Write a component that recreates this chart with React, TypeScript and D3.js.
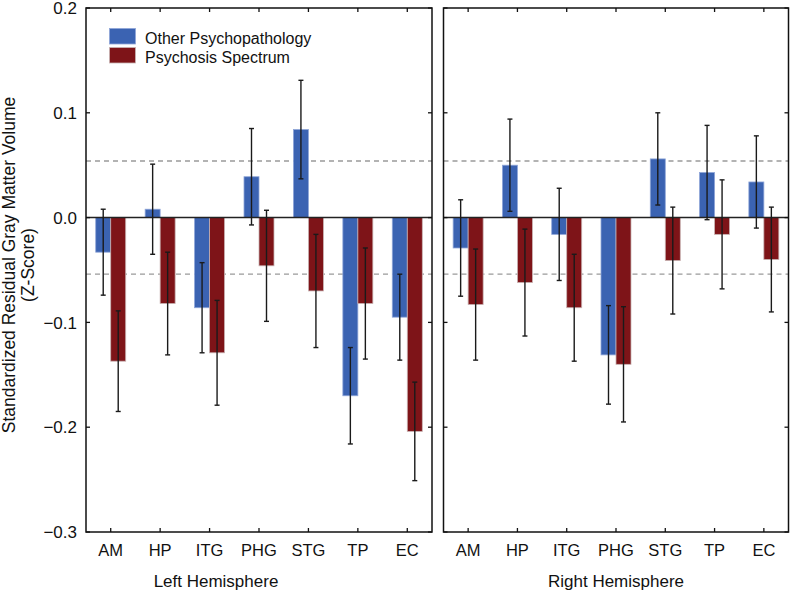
import React, { useEffect, useRef } from 'react';
import * as d3 from 'd3';

const regions = ['AM', 'HP', 'ITG', 'PHG', 'STG', 'TP', 'EC'];
const groups = ['Other Psychopathology', 'Psychosis Spectrum'];
const groupColors = ['#3b63b2', '#7e1418'];
const groupEdges = ['#8ea5d8', '#c9b3b3'];

const leftOther = [-0.033, 0.008, -0.086, 0.039, 0.084, -0.170, -0.095];
const leftOtherErr = [0.041, 0.043, 0.043, 0.046, 0.047, 0.046, 0.041];
const leftPsych = [-0.137, -0.082, -0.129, -0.046, -0.070, -0.082, -0.204];
const leftPsychErr = [0.048, 0.049, 0.050, 0.053, 0.054, 0.053, 0.047];

const rightOther = [-0.029, 0.050, -0.016, -0.131, 0.056, 0.043, 0.034];
const rightOtherErr = [0.046, 0.044, 0.044, 0.047, 0.044, 0.045, 0.044];
const rightPsych = [-0.083, -0.062, -0.086, -0.140, -0.041, -0.016, -0.040];
const rightPsychErr = [0.053, 0.051, 0.051, 0.055, 0.051, 0.052, 0.050];

const yTicks = [0.2, 0.1, 0.0, -0.1, -0.2, -0.3];
const threshold = 0.054;

const W = 791;
const H = 592;
const FONT = '"Liberation Sans", Arial, sans-serif';

const App = () => {
  const svgRef = useRef(null);

  useEffect(() => {
    const svg = d3.select(svgRef.current);
    svg.selectAll('*').remove();

    const top = 8;
    const bottom = 532;
    const yScale = d3.scaleLinear().domain([-0.3, 0.2]).range([bottom, top]);

    const panels = [
      { x0: 86, x1: 432, label: 'Left Hemisphere', labelX: 216, showY: true,
        series: [[leftOther, leftOtherErr], [leftPsych, leftPsychErr]] },
      { x0: 443.5, x1: 788.5, label: 'Right Hemisphere', labelX: 616, showY: false,
        series: [[rightOther, rightOtherErr], [rightPsych, rightPsychErr]] },
    ];

    panels.forEach((p) => {
      const g = svg.append('g');
      const xScale = d3.scaleBand().domain(regions).range([p.x0, p.x1]).padding(0);
      const inner = d3.scaleBand().domain(['0', '1']).range([-15, 15]).padding(0);
      const cx = (r) => xScale(r) + xScale.bandwidth() / 2;

      // dashed threshold lines
      [threshold, -threshold].forEach((t) => {
        g.append('line')
          .attr('x1', p.x0).attr('x2', p.x1)
          .attr('y1', yScale(t)).attr('y2', yScale(t))
          .attr('stroke', '#9a9a9a')
          .attr('stroke-width', 1.3)
          .attr('stroke-dasharray', '5,4');
      });

      // bars
      p.series.forEach(([vals], si) => {
        g.selectAll(null)
          .data(regions)
          .enter()
          .append('rect')
          .attr('x', (r) => cx(r) + inner(String(si)))
          .attr('width', inner.bandwidth())
          .attr('y', (r, i) => yScale(Math.max(0, vals[i])))
          .attr('height', (r, i) => Math.abs(yScale(vals[i]) - yScale(0)))
          .attr('fill', groupColors[si])
          .attr('stroke', groupEdges[si])
          .attr('stroke-width', 0.8);
      });

      // zero line
      g.append('line')
        .attr('x1', p.x0).attr('x2', p.x1)
        .attr('y1', yScale(0)).attr('y2', yScale(0))
        .attr('stroke', '#222')
        .attr('stroke-width', 1.5);

      // error bars
      p.series.forEach(([vals, errs], si) => {
        regions.forEach((r, i) => {
          const x = cx(r) + inner(String(si)) + inner.bandwidth() / 2;
          const yT = yScale(vals[i] + errs[i]);
          const yB = yScale(vals[i] - errs[i]);
          g.append('line').attr('x1', x).attr('x2', x).attr('y1', yT).attr('y2', yB)
            .attr('stroke', '#1a1a1a').attr('stroke-width', 1.4);
          [yT, yB].forEach((yy) => {
            g.append('line').attr('x1', x - 2.5).attr('x2', x + 2.5).attr('y1', yy).attr('y2', yy)
              .attr('stroke', '#1a1a1a').attr('stroke-width', 1.4);
          });
        });
      });

      // frame
      g.append('rect')
        .attr('x', p.x0).attr('y', top)
        .attr('width', p.x1 - p.x0).attr('height', bottom - top)
        .attr('fill', 'none')
        .attr('stroke', '#111')
        .attr('stroke-width', 1.5);

      // inward ticks
      regions.forEach((r) => {
        g.append('line').attr('x1', cx(r)).attr('x2', cx(r)).attr('y1', top).attr('y2', top + 4)
          .attr('stroke', '#111').attr('stroke-width', 1.3);
        g.append('line').attr('x1', cx(r)).attr('x2', cx(r)).attr('y1', bottom).attr('y2', bottom - 4)
          .attr('stroke', '#111').attr('stroke-width', 1.3);
      });
      yTicks.forEach((t) => {
        g.append('line').attr('x1', p.x0).attr('x2', p.x0 + 4).attr('y1', yScale(t)).attr('y2', yScale(t))
          .attr('stroke', '#111').attr('stroke-width', 1.3);
        g.append('line').attr('x1', p.x1).attr('x2', p.x1 - 4).attr('y1', yScale(t)).attr('y2', yScale(t))
          .attr('stroke', '#111').attr('stroke-width', 1.3);
      });

      // category labels
      g.selectAll(null)
        .data(regions)
        .enter()
        .append('text')
        .attr('x', (r) => cx(r))
        .attr('y', 556)
        .attr('text-anchor', 'middle')
        .style('font-family', FONT)
        .style('font-size', '16.5px')
        .attr('fill', '#111')
        .text((r) => r);

      g.append('text')
        .attr('x', p.labelX)
        .attr('y', 587)
        .attr('text-anchor', 'middle')
        .style('font-family', FONT)
        .style('font-size', '17px')
        .attr('fill', '#111')
        .text(p.label);

      if (p.showY) {
        g.selectAll(null)
          .data(yTicks)
          .enter()
          .append('text')
          .attr('x', 77)
          .attr('y', (t) => yScale(t))
          .attr('dy', '0.36em')
          .attr('text-anchor', 'end')
          .style('font-family', FONT)
          .style('font-size', '17px')
          .attr('fill', '#111')
          .text((t) => d3.format('.1f')(t));
      }
    });

    // y axis title
    const yMid = 265;
    svg.append('text')
      .attr('transform', `translate(15, ${yMid}) rotate(-90)`)
      .attr('text-anchor', 'middle')
      .style('font-family', FONT)
      .style('font-size', '17.5px')
      .attr('fill', '#111')
      .text('Standardized Residual Gray Matter Volume');
    svg.append('text')
      .attr('transform', `translate(34, ${yMid}) rotate(-90)`)
      .attr('text-anchor', 'middle')
      .style('font-family', FONT)
      .style('font-size', '17.5px')
      .attr('fill', '#111')
      .text('(Z-Score)');

    // legend
    groups.forEach((name, i) => {
      const ly = 28.5 + i * 19;
      svg.append('rect')
        .attr('x', 109.5).attr('y', ly)
        .attr('width', 26).attr('height', 15.5)
        .attr('fill', groupColors[i])
        .attr('stroke', groupEdges[i])
        .attr('stroke-width', 0.8);
      svg.append('text')
        .attr('x', 145)
        .attr('y', ly + 15.5)
        .style('font-family', FONT)
        .style('font-size', '16px')
        .attr('fill', '#111')
        .text(name);
    });
  }, []);

  return (
    <svg
      ref={svgRef}
      width={W}
      height={H}
      style={{ position: 'absolute', left: 0, top: 0, background: '#fff' }}
    />
  );
};

export default App;
